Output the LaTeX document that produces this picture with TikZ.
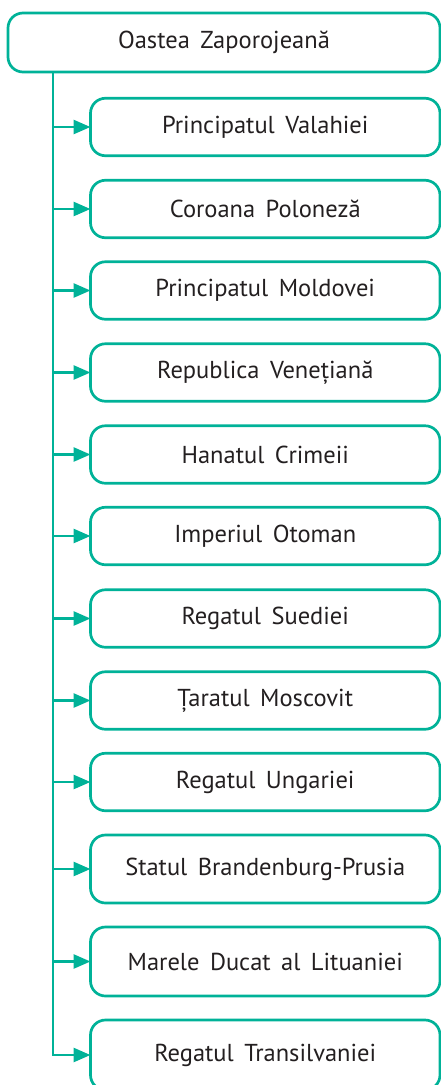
\documentclass[tikz,border=0pt]{standalone}
\usepackage{fontspec}
\setmainfont[WordSpace=1.6]{PT Sans}
\usetikzlibrary{arrows.meta}
\definecolor{teal1}{RGB}{0,178,152}
\definecolor{txt}{RGB}{35,31,32}
\begin{document}
\begin{tikzpicture}[x=1pt,y=-1pt,
  box/.style={draw=teal1, line width=2.7pt, rounded corners=15pt, text=txt,
    font=\fontsize{24.5}{28}\selectfont, inner sep=0pt, outer sep=0pt,
    minimum width=349.5pt},
  link/.style={draw=teal1, line width=2.7pt, -{Triangle[length=17pt 0 0,width=14pt 0 0]}}]
\useasboundingbox (0,0) rectangle (441,1085);
\node[box, minimum width=432pt, minimum height=59pt] (top) at (224,42.5) {Oastea Zaporojeană};
\coordinate (t0) at (53,0);
\node[box, minimum height=57.5pt] (c0) at (265.25,127) {Principatul Valahiei};
\node[box, minimum height=57.5pt] (c1) at (265.25,209) {Coroana Poloneză};
\node[box, minimum height=57.5pt] (c2) at (265.25,290.5) {Principatul Moldovei};
\node[box, minimum height=57.5pt] (c3) at (265.25,372.5) {Republica Venețiană};
\node[box, minimum height=57.5pt] (c4) at (265.25,454.5) {Hanatul Crimeii};
\node[box, minimum height=57.5pt] (c5) at (265.25,536) {Imperiul Otoman};
\node[box, minimum height=57.5pt] (c6) at (265.25,618.5) {Regatul Suediei};
\node[box, minimum height=57.5pt] (c7) at (265.25,700.5) {Țaratul Moscovit};
\node[box, minimum height=57.5pt] (c8) at (265.25,782) {Regatul Ungariei};
\node[box, minimum height=68pt] (c9) at (265.25,869) {Statul Brandenburg-Prusia};
\node[box, minimum height=69pt] (c10) at (265.25,961.5) {Marele Ducat al Lituaniei};
\node[box, minimum height=70pt] (c11) at (265.25,1055) {Regatul Transilvaniei};
\draw[link] (top.south -| t0) |- (c11.west);
\foreach \i in {0,...,10} {
  \draw[link] (c\i.west -| t0) -- (c\i.west);
}
\end{tikzpicture}
\end{document}
